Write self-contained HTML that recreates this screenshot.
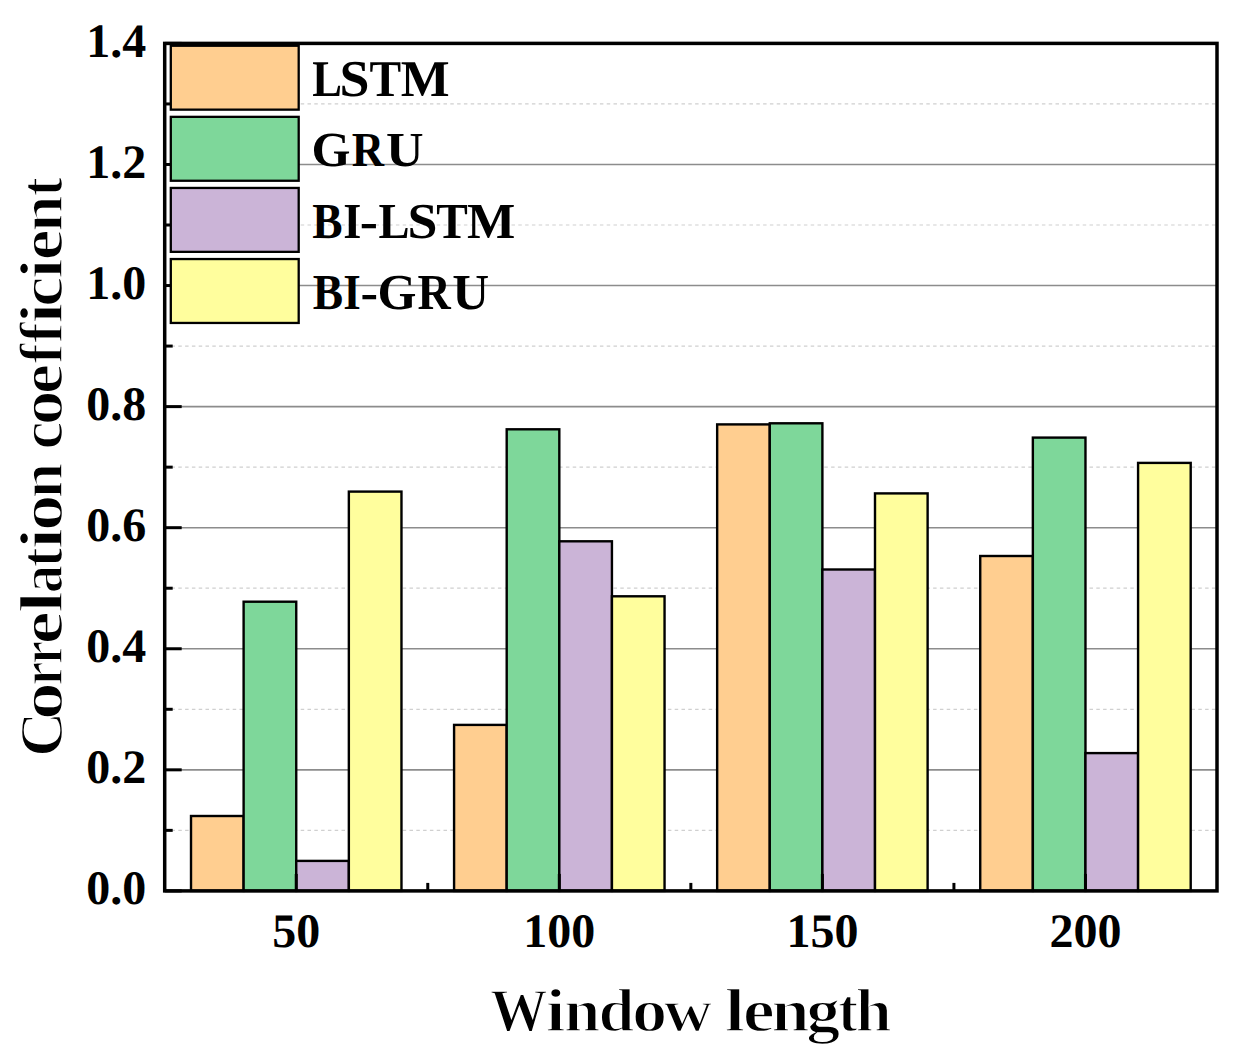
<!DOCTYPE html><html><head><meta charset="utf-8"><style>html,body{margin:0;padding:0;background:#fff;}svg{display:block;}text{font-family:"Liberation Serif",serif;font-weight:bold;fill:#000;text-rendering:geometricPrecision;}</style></head><body>
<svg width="1242" height="1063" viewBox="0 0 1242 1063">
<rect width="1242" height="1063" fill="#fff"/>
<line x1="164.7" y1="830.36" x2="1217.0" y2="830.36" stroke="#d0d0d0" stroke-width="1.2" stroke-dasharray="3.5 3.3"/>
<line x1="164.7" y1="709.29" x2="1217.0" y2="709.29" stroke="#d0d0d0" stroke-width="1.2" stroke-dasharray="3.5 3.3"/>
<line x1="164.7" y1="588.22" x2="1217.0" y2="588.22" stroke="#d0d0d0" stroke-width="1.2" stroke-dasharray="3.5 3.3"/>
<line x1="164.7" y1="467.15" x2="1217.0" y2="467.15" stroke="#d0d0d0" stroke-width="1.2" stroke-dasharray="3.5 3.3"/>
<line x1="164.7" y1="346.08" x2="1217.0" y2="346.08" stroke="#d0d0d0" stroke-width="1.2" stroke-dasharray="3.5 3.3"/>
<line x1="164.7" y1="225.01" x2="1217.0" y2="225.01" stroke="#d0d0d0" stroke-width="1.2" stroke-dasharray="3.5 3.3"/>
<line x1="164.7" y1="103.94" x2="1217.0" y2="103.94" stroke="#d0d0d0" stroke-width="1.2" stroke-dasharray="3.5 3.3"/>
<line x1="164.7" y1="769.83" x2="1217.0" y2="769.83" stroke="#8c8c8c" stroke-width="1.6"/>
<line x1="164.7" y1="648.76" x2="1217.0" y2="648.76" stroke="#8c8c8c" stroke-width="1.6"/>
<line x1="164.7" y1="527.69" x2="1217.0" y2="527.69" stroke="#8c8c8c" stroke-width="1.6"/>
<line x1="164.7" y1="406.61" x2="1217.0" y2="406.61" stroke="#8c8c8c" stroke-width="1.6"/>
<line x1="164.7" y1="285.54" x2="1217.0" y2="285.54" stroke="#8c8c8c" stroke-width="1.6"/>
<line x1="164.7" y1="164.47" x2="1217.0" y2="164.47" stroke="#8c8c8c" stroke-width="1.6"/>
<rect x="191.01" y="816.00" width="52.62" height="74.90" fill="#FFCE90" stroke="#000" stroke-width="2.4"/>
<rect x="243.62" y="601.70" width="52.62" height="289.20" fill="#7ED79A" stroke="#000" stroke-width="2.4"/>
<rect x="296.24" y="860.90" width="52.62" height="30.00" fill="#CBB4D7" stroke="#000" stroke-width="2.4"/>
<rect x="348.85" y="491.60" width="52.62" height="399.30" fill="#FFFE9D" stroke="#000" stroke-width="2.4"/>
<rect x="454.08" y="724.90" width="52.62" height="166.00" fill="#FFCE90" stroke="#000" stroke-width="2.4"/>
<rect x="506.70" y="429.30" width="52.62" height="461.60" fill="#7ED79A" stroke="#000" stroke-width="2.4"/>
<rect x="559.31" y="541.30" width="52.62" height="349.60" fill="#CBB4D7" stroke="#000" stroke-width="2.4"/>
<rect x="611.93" y="596.30" width="52.62" height="294.60" fill="#FFFE9D" stroke="#000" stroke-width="2.4"/>
<rect x="717.16" y="424.40" width="52.62" height="466.50" fill="#FFCE90" stroke="#000" stroke-width="2.4"/>
<rect x="769.77" y="423.30" width="52.62" height="467.60" fill="#7ED79A" stroke="#000" stroke-width="2.4"/>
<rect x="822.39" y="569.50" width="52.62" height="321.40" fill="#CBB4D7" stroke="#000" stroke-width="2.4"/>
<rect x="875.00" y="493.40" width="52.62" height="397.50" fill="#FFFE9D" stroke="#000" stroke-width="2.4"/>
<rect x="980.23" y="556.00" width="52.62" height="334.90" fill="#FFCE90" stroke="#000" stroke-width="2.4"/>
<rect x="1032.85" y="437.60" width="52.62" height="453.30" fill="#7ED79A" stroke="#000" stroke-width="2.4"/>
<rect x="1085.46" y="753.10" width="52.62" height="137.80" fill="#CBB4D7" stroke="#000" stroke-width="2.4"/>
<rect x="1138.08" y="462.90" width="52.62" height="428.00" fill="#FFFE9D" stroke="#000" stroke-width="2.4"/>
<line x1="164.7" y1="890.90" x2="181.7" y2="890.90" stroke="#000" stroke-width="3"/>
<line x1="164.7" y1="830.36" x2="172.7" y2="830.36" stroke="#000" stroke-width="3"/>
<line x1="164.7" y1="769.83" x2="181.7" y2="769.83" stroke="#000" stroke-width="3"/>
<line x1="164.7" y1="709.29" x2="172.7" y2="709.29" stroke="#000" stroke-width="3"/>
<line x1="164.7" y1="648.76" x2="181.7" y2="648.76" stroke="#000" stroke-width="3"/>
<line x1="164.7" y1="588.22" x2="172.7" y2="588.22" stroke="#000" stroke-width="3"/>
<line x1="164.7" y1="527.69" x2="181.7" y2="527.69" stroke="#000" stroke-width="3"/>
<line x1="164.7" y1="467.15" x2="172.7" y2="467.15" stroke="#000" stroke-width="3"/>
<line x1="164.7" y1="406.61" x2="181.7" y2="406.61" stroke="#000" stroke-width="3"/>
<line x1="164.7" y1="346.08" x2="172.7" y2="346.08" stroke="#000" stroke-width="3"/>
<line x1="164.7" y1="285.54" x2="181.7" y2="285.54" stroke="#000" stroke-width="3"/>
<line x1="164.7" y1="225.01" x2="172.7" y2="225.01" stroke="#000" stroke-width="3"/>
<line x1="164.7" y1="164.47" x2="181.7" y2="164.47" stroke="#000" stroke-width="3"/>
<line x1="164.7" y1="103.94" x2="172.7" y2="103.94" stroke="#000" stroke-width="3"/>
<line x1="164.7" y1="43.40" x2="181.7" y2="43.40" stroke="#000" stroke-width="3"/>
<line x1="296.24" y1="890.9" x2="296.24" y2="873.9" stroke="#000" stroke-width="3"/>
<line x1="559.31" y1="890.9" x2="559.31" y2="873.9" stroke="#000" stroke-width="3"/>
<line x1="822.39" y1="890.9" x2="822.39" y2="873.9" stroke="#000" stroke-width="3"/>
<line x1="1085.46" y1="890.9" x2="1085.46" y2="873.9" stroke="#000" stroke-width="3"/>
<line x1="427.77" y1="890.9" x2="427.77" y2="882.9" stroke="#000" stroke-width="3"/>
<line x1="690.85" y1="890.9" x2="690.85" y2="882.9" stroke="#000" stroke-width="3"/>
<line x1="953.92" y1="890.9" x2="953.92" y2="882.9" stroke="#000" stroke-width="3"/>
<rect x="164.7" y="43.4" width="1052.30" height="847.50" fill="none" stroke="#000" stroke-width="3.5"/>
<rect x="170.8" y="45.75" width="127.9" height="63.9" fill="#FFCE90" stroke="#000" stroke-width="2.3"/>
<text transform="translate(312.14 95.95) scale(0.862 1)" font-size="51.70">L</text>
<text transform="translate(339.53 95.95) scale(1.042 1)" font-size="51.70">S</text>
<text transform="translate(369.46 95.95) scale(0.918 1)" font-size="51.70">T</text>
<text transform="translate(400.72 95.95) scale(1.002 1)" font-size="51.70">M</text>
<rect x="170.8" y="116.85" width="127.9" height="63.9" fill="#7ED79A" stroke="#000" stroke-width="2.3"/>
<text transform="translate(311.46 166.00) scale(1.021 1)" font-size="49.00">G</text>
<text transform="translate(351.84 166.00) scale(0.912 1)" font-size="49.00">R</text>
<text transform="translate(385.90 166.00) scale(1.062 1)" font-size="49.00">U</text>
<rect x="170.8" y="187.95" width="127.9" height="63.9" fill="#CBB4D7" stroke="#000" stroke-width="2.3"/>
<text transform="translate(312.25 237.80) scale(0.902 1)" font-size="50.40">B</text>
<text transform="translate(343.33 237.80) scale(0.925 1)" font-size="50.40">I</text>
<text transform="translate(359.70 237.80) scale(1.085 1)" font-size="50.40">-</text>
<text transform="translate(378.60 237.80) scale(0.924 1)" font-size="50.40">L</text>
<text transform="translate(407.53 237.80) scale(1.069 1)" font-size="50.40">S</text>
<text transform="translate(436.26 237.80) scale(0.939 1)" font-size="50.40">T</text>
<text transform="translate(467.12 237.80) scale(1.016 1)" font-size="50.40">M</text>
<rect x="170.8" y="259.05" width="127.9" height="63.9" fill="#FFFE9D" stroke="#000" stroke-width="2.3"/>
<text transform="translate(312.65 309.00) scale(0.902 1)" font-size="50.40">B</text>
<text transform="translate(343.28 309.00) scale(0.894 1)" font-size="50.40">I</text>
<text transform="translate(360.47 309.00) scale(1.046 1)" font-size="50.40">-</text>
<text transform="translate(377.56 309.00) scale(0.993 1)" font-size="50.40">G</text>
<text transform="translate(417.41 309.00) scale(0.914 1)" font-size="50.40">R</text>
<text transform="translate(452.13 309.00) scale(1.015 1)" font-size="50.40">U</text>
<text x="146.2" y="904.20" font-size="48" text-anchor="end">0.0</text>
<text x="146.2" y="783.13" font-size="48" text-anchor="end">0.2</text>
<text x="146.2" y="662.06" font-size="48" text-anchor="end">0.4</text>
<text x="146.2" y="540.99" font-size="48" text-anchor="end">0.6</text>
<text x="146.2" y="419.91" font-size="48" text-anchor="end">0.8</text>
<text x="146.2" y="298.84" font-size="48" text-anchor="end">1.0</text>
<text x="146.2" y="177.77" font-size="48" text-anchor="end">1.2</text>
<text x="146.2" y="56.70" font-size="48" text-anchor="end">1.4</text>
<text x="296.24" y="947.3" font-size="48" text-anchor="middle">50</text>
<text x="559.31" y="947.3" font-size="48" text-anchor="middle">100</text>
<text x="822.39" y="947.3" font-size="48" text-anchor="middle">150</text>
<text x="1085.46" y="947.3" font-size="48" text-anchor="middle">200</text>
<text transform="translate(490.08 1031.30) scale(0.941 1)" font-size="61.32" stroke="#fff" stroke-width="1.6">W</text>
<text transform="translate(545.51 1031.30) scale(1.183 1)" font-size="61.32" stroke="#fff" stroke-width="1.6">i</text>
<text transform="translate(563.95 1031.30) scale(1.063 1)" font-size="61.32" stroke="#fff" stroke-width="1.6">n</text>
<text transform="translate(598.48 1031.30) scale(1.054 1)" font-size="61.32" stroke="#fff" stroke-width="1.6">d</text>
<text transform="translate(632.11 1031.30) scale(1.151 1)" font-size="61.32" stroke="#fff" stroke-width="1.6">o</text>
<text transform="translate(663.80 1031.30) scale(1.097 1)" font-size="61.32" stroke="#fff" stroke-width="1.6">w</text>
<text transform="translate(724.44 1031.30) scale(1.217 1)" font-size="61.32" stroke="#fff" stroke-width="1.6">l</text>
<text transform="translate(742.73 1031.30) scale(1.177 1)" font-size="61.32" stroke="#fff" stroke-width="1.6">e</text>
<text transform="translate(771.35 1031.30) scale(1.123 1)" font-size="61.32" stroke="#fff" stroke-width="1.6">n</text>
<text transform="translate(806.21 1031.30) scale(1.107 1)" font-size="61.32" stroke="#fff" stroke-width="1.6">g</text>
<text transform="translate(837.93 1031.30) scale(0.986 1)" font-size="61.32" stroke="#fff" stroke-width="1.6">t</text>
<text transform="translate(855.58 1031.30) scale(1.062 1)" font-size="61.32" stroke="#fff" stroke-width="1.6">h</text>
<text transform="translate(61.80 757.07) rotate(-90) scale(1.027 1)" font-size="61.32" stroke="#fff" stroke-width="1.6">C</text>
<text transform="translate(61.80 720.08) rotate(-90) scale(1.231 1)" font-size="61.32" stroke="#fff" stroke-width="1.6">o</text>
<text transform="translate(61.80 685.87) rotate(-90) scale(0.891 1)" font-size="61.32" stroke="#fff" stroke-width="1.6">r</text>
<text transform="translate(61.80 664.21) rotate(-90) scale(0.858 1)" font-size="61.32" stroke="#fff" stroke-width="1.6">r</text>
<text transform="translate(61.80 644.56) rotate(-90) scale(1.224 1)" font-size="61.32" stroke="#fff" stroke-width="1.6">e</text>
<text transform="translate(61.80 613.18) rotate(-90) scale(1.318 1)" font-size="61.32" stroke="#fff" stroke-width="1.6">l</text>
<text transform="translate(61.80 593.23) rotate(-90) scale(0.926 1)" font-size="61.32" stroke="#fff" stroke-width="1.6">a</text>
<text transform="translate(61.80 567.57) rotate(-90) scale(0.986 1)" font-size="61.32" stroke="#fff" stroke-width="1.6">t</text>
<text transform="translate(61.80 549.52) rotate(-90) scale(1.278 1)" font-size="61.32" stroke="#fff" stroke-width="1.6">i</text>
<text transform="translate(61.80 530.98) rotate(-90) scale(1.189 1)" font-size="61.32" stroke="#fff" stroke-width="1.6">o</text>
<text transform="translate(61.80 498.43) rotate(-90) scale(1.053 1)" font-size="61.32" stroke="#fff" stroke-width="1.6">n</text>
<text transform="translate(61.80 449.55) rotate(-90) scale(1.026 1)" font-size="61.32" stroke="#fff" stroke-width="1.6">c</text>
<text transform="translate(61.80 425.24) rotate(-90) scale(1.131 1)" font-size="61.32" stroke="#fff" stroke-width="1.6">o</text>
<text transform="translate(61.80 394.15) rotate(-90) scale(1.122 1)" font-size="61.32" stroke="#fff" stroke-width="1.6">e</text>
<text transform="translate(61.80 363.65) rotate(-90) scale(0.992 1)" font-size="61.32" stroke="#fff" stroke-width="1.6">f</text>
<text transform="translate(61.80 343.36) rotate(-90) scale(1.026 1)" font-size="61.32" stroke="#fff" stroke-width="1.6">f</text>
<text transform="translate(61.80 323.99) rotate(-90) scale(1.258 1)" font-size="61.32" stroke="#fff" stroke-width="1.6">i</text>
<text transform="translate(61.80 306.95) rotate(-90) scale(1.119 1)" font-size="61.32" stroke="#fff" stroke-width="1.6">c</text>
<text transform="translate(61.80 279.26) rotate(-90) scale(1.230 1)" font-size="61.32" stroke="#fff" stroke-width="1.6">i</text>
<text transform="translate(61.80 260.41) rotate(-90) scale(1.152 1)" font-size="61.32" stroke="#fff" stroke-width="1.6">e</text>
<text transform="translate(61.80 231.98) rotate(-90) scale(1.078 1)" font-size="61.32" stroke="#fff" stroke-width="1.6">n</text>
<text transform="translate(61.80 196.53) rotate(-90) scale(0.945 1)" font-size="61.32" stroke="#fff" stroke-width="1.6">t</text>
</svg></body></html>
